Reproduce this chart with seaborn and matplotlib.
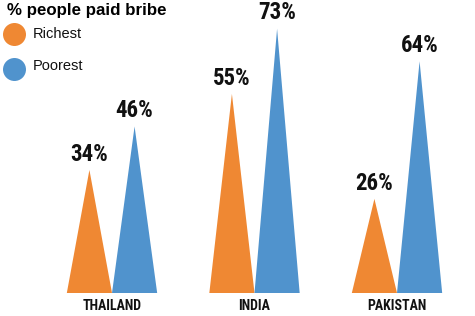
import matplotlib
matplotlib.use("Agg")
import matplotlib.pyplot as plt
import seaborn as sns
import pandas as pd

countries = ["THAILAND", "INDIA", "PAKISTAN"]
richest = [34, 55, 26]
poorest = [46, 73, 64]
groups = ["Richest", "Poorest"]
colors = ["#EF8833", "#5093CD"]
title = "% people paid bribe"

df = pd.DataFrame({
    "country": countries * 2,
    "group": [groups[0]] * 3 + [groups[1]] * 3,
    "value": richest + poorest,
})

sns.set_theme(style="white")
plt.rcParams["font.family"] = ["Liberation Sans", "DejaVu Sans"]
narrow = ["Roboto Condensed", "Liberation Sans", "DejaVu Sans"]

W, H = 475, 316
fig = plt.figure(figsize=(W / 100, H / 100), dpi=100)
ax = fig.add_axes([40.75 / W, 23 / H, 427.5 / W, 289.6 / H])

sns.barplot(data=df, x="country", y="value", hue="group", palette=colors,
            width=0.634, saturation=1, legend=False, ax=ax, order=countries,
            hue_order=groups)

for cont, col in zip(ax.containers, colors):
    for bar in cont:
        x0 = bar.get_x()
        w = bar.get_width()
        h = bar.get_height()
        ax.fill([x0, x0 + w / 2, x0 + w], [0, h, 0], color=col, lw=0)
        bar.set_visible(False)
        ax.annotate(f"{h:.0f}%", (x0 + w / 2, h), xytext=(0, 6.7),
                    textcoords="offset points", ha="center", va="baseline",
                    fontsize=16.5, fontweight="heavy", family=narrow,
                    color="#111111")

ax.set_xlim(-0.5, 2.5)
ax.set_ylim(0, 80)
ax.set_xlabel("")
ax.set_ylabel("")
ax.set_yticks([])
ax.tick_params(axis="x", length=0, pad=4)
for lbl in ax.get_xticklabels():
    lbl.set_fontfamily(narrow)
    lbl.set_fontweight("heavy")
    lbl.set_fontsize(10)
    lbl.set_color("#111111")
for s in ax.spines.values():
    s.set_visible(False)

# legend overlay in pixel coordinates
lax = fig.add_axes([0, 0, 1, 1], facecolor="none")
lax.set_xlim(0, W)
lax.set_ylim(H, 0)
lax.axis("off")
lax.text(7, 15, title, fontsize=12.2, fontweight="bold", color="black",
         va="baseline", ha="left")
ys = [34, 69]
tys = [34, 66]
for g, c, y, ty in zip(groups, colors, ys, tys):
    lax.scatter([14.3], [y], s=(23 * 0.72) ** 2, color=c, lw=0)
    lax.text(33, ty, g, fontsize=10.5, color="#111111", va="center", ha="left")

fig.savefig("out.png", dpi=100)
